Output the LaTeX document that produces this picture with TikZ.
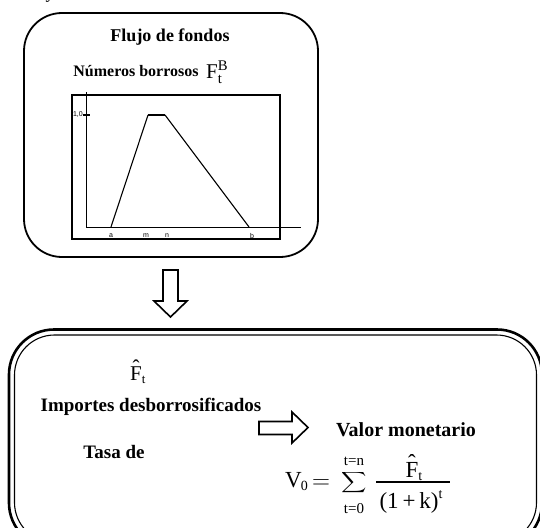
\documentclass[tikz,border=0pt]{standalone}
\usepackage{amsmath}
\usepackage{fontspec}
\setmainfont{Liberation Serif}
\newfontfamily\arialfont{Liberation Sans}
\newcommand{\myhatF}[1]{\ooalign{F\cr\hidewidth\raisebox{#1}{\char"02C6}\hidewidth\cr}}
\begin{document}
\begin{tikzpicture}[x=1pt,y=-1pt,
  boxline/.style={line width=1.8pt},
  heading/.style={font=\fontsize{18}{21}\selectfont\bfseries, inner sep=0pt},
  bigheading/.style={font=\fontsize{19}{22}\selectfont\bfseries, inner sep=0pt},
  smalllbl/.style={font=\arialfont\fontsize{7}{8}\selectfont, inner sep=0pt},
  blockarrow/.style={line width=1.6pt, line join=miter},
  mathlbl/.style={inner sep=0pt, font=\fontsize{21}{25}\selectfont},
  formtxt/.style={inner sep=0pt, font=\fontsize{23}{27}\selectfont},
  limtxt/.style={inner sep=0pt, font=\fontsize{15}{17}\selectfont}]
\useasboundingbox (0,0) rectangle (540,527);
\clip (0,0) rectangle (540,527);
% cut-off text at top
\node[font=\fontsize{18}{20}\selectfont, anchor=base] (ycut) at (50,-1) {y};
% top box
\draw[boxline, rounded corners=38pt] (24,13) rectangle (318,257);
\node[heading] (flujo) at (170,37) {Flujo de fondos};
\node[heading, font=\fontsize{16}{19}\selectfont\bfseries] (numeros) at (136,71) {Números borrosos};
\node[mathlbl, anchor=base west] (FtB) at (206,78) {$\mathrm{F}_{\mathrm{t}}^{\mathrm{B}}$};
% chart
\draw[line width=1.8pt] (72,95) rectangle (280,239);
\coordinate (ytop) at (86,92);
\coordinate (orig) at (86,227);
\coordinate (xend) at (301,227);
\draw[line width=1pt] (ytop) -- (orig) -- (xend);
\coordinate (t1) at (83,115);
\coordinate (t2) at (90,115);
\draw[line width=1.4pt] (t1) -- (t2);
\coordinate (pa) at (111,227);
\coordinate (pm) at (148,115);
\coordinate (pn) at (165,115);
\coordinate (pb) at (249,227);
\draw[line width=1.1pt] (pa) -- (pm);
\draw[line width=1.8pt] (pm) -- (pn);
\draw[line width=1.1pt] (pn) -- (pb);
\node[smalllbl, anchor=east] (uno) at (83,115) {1,0};
\node[smalllbl] (la) at (111,236) {a};
\node[smalllbl] (lm) at (146,236) {m};
\node[smalllbl] (ln) at (167,236) {n};
\node[smalllbl] (lb) at (252,236) {b};
% down arrow
\draw[blockarrow] (163,270) -- (163,301) -- (154,301) -- (170.5,317) -- (187,301) -- (178,301) -- (178,270) -- cycle;
% bottom box (thick outer, thin inner line)
\draw[line width=2.6pt, rounded corners=45pt] (9,329.5) rectangle (542,548);
\draw[line width=1.1pt, rounded corners=40pt] (14.5,335) rectangle (536.5,542.5);
\node[mathlbl, anchor=base west] (Fhat) at (130,380) {\myhatF{6pt}\raisebox{-3pt}{\fontsize{13}{13}\selectfont t}};
\node[bigheading] (importes) at (151,407) {Importes desborrosificados};
\node[bigheading] (tasa) at (114,452) {Tasa de};
\draw[blockarrow] (259,421.5) -- (292,421.5) -- (292,412) -- (308,427.5) -- (292,443) -- (292,434.5) -- (259,434.5) -- cycle;
\node[bigheading, font=\fontsize{20}{23}\selectfont\bfseries] (valor) at (406,430) {Valor monetario};
% formula V0 = sum F/(1+k)^t
\node[formtxt, anchor=base west] (vzero) at (285,487) {V\kern-1pt\raisebox{-3pt}{\fontsize{14}{14}\selectfont 0}};
\node[formtxt, anchor=base] (eq) at (321,488) {$=$};
\node[inner sep=0pt, font=\fontsize{15.5}{17}\selectfont] (sumsign) at (354,482.5) {\scalebox{1.22}[1]{$\displaystyle\sum$}};
\node[limtxt, anchor=base] (limtop) at (354,465) {t=n};
\node[limtxt, anchor=base] (limbot) at (354,513) {t=0};
\node[formtxt, anchor=base] (numer) at (414,477) {\myhatF{7pt}\raisebox{-3pt}{\fontsize{14}{14}\selectfont t}};
\coordinate (barl) at (376,482);
\coordinate (barr) at (450,482);
\draw[line width=1.1pt] (barl) -- (barr);
\node[formtxt, anchor=base] (denom) at (411,508) {(1\,+\,k)\raisebox{10pt}{\fontsize{14}{14}\selectfont t}};
\end{tikzpicture}
\end{document}
